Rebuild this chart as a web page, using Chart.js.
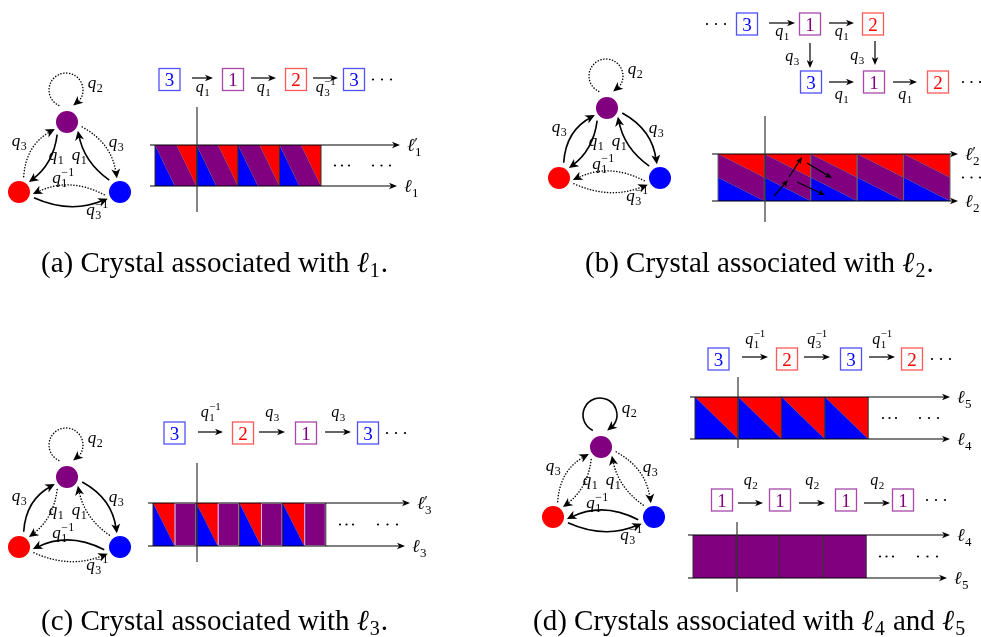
<!DOCTYPE html>
<html>
<head>
<meta charset="utf-8">
<script src="https://cdn.jsdelivr.net/npm/chart.js@4.4.0/dist/chart.umd.min.js"></script>
<style>html,body{margin:0;padding:0;background:#fff}canvas{display:block}</style>
</head>
<body>
<canvas id="c" width="981" height="637"></canvas>
<script>
// quiver: 1 = purple (top), 2 = red (left), 3 = blue (right)
const quiverNodes = ["1", "2", "3"];
const nodeColors = ["#800080", "#ff0000", "#0000ff"];
const quiverEdges = [
  ["1", "1", "q2"], ["1", "2", "q1"], ["2", "1", "q3"], ["3", "1", "q1"],
  ["1", "3", "q3"], ["3", "2", "q1^-1"], ["2", "3", "q3^-1"]
];
// 1 = solid arrow, 0 = dotted arrow, per panel
const solidA = [0, 1, 0, 1, 0, 0, 1];
const solidB = [0, 1, 1, 1, 1, 0, 0];
const solidC = [0, 0, 1, 0, 1, 1, 0];
const solidD = [1, 0, 0, 0, 0, 1, 1];

// crystals
const crystalA = ["3", "1", "2", "3"];
const opsA = ["q1", "q1", "q3^-1"];
const crystalB = ["3", "1", "2"];
const opsB = ["q1", "q1"];
const opsBDown = ["q3", "q3"];
const crystalC = ["3", "2", "1", "3"];
const opsC = ["q1^-1", "q3", "q3"];
const crystalD4 = ["3", "2", "3", "2"];
const opsD4 = ["q1^-1", "q3^-1", "q1^-1"];
const crystalD5 = ["1", "1", "1", "1"];
const opsD5 = ["q2", "q2", "q2"];

// tilings
const stripPatterns = ["a", "b", "c", "d", "e"];
const stripTiles = [4, 5, 4, 4, 4];
const stripLabels = [["ℓ'1", "ℓ1"], ["ℓ'2", "ℓ2"], ["ℓ'3", "ℓ3"], ["ℓ5", "ℓ4"], ["ℓ4", "ℓ5"]];

const captions = [
  ["(a) Crystal associated with ", "ℓ1", "."],
  ["(b) Crystal associated with ", "ℓ2", "."],
  ["(c) Crystal associated with ", "ℓ3", "."],
  ["(d) Crystals associated with ", "ℓ4", " and ", "ℓ5"]
];

// ---- layout (page units) ----
const quiverAt = [[67, 122], [607, 108], [67, 477], [601, 447]];
const nodeOffset = { "1": [0, 0], "2": [-48, 70], "3": [53, 70] };
const edgeGeom = [null, [128, -45, -6], [-73, 150, -8], [-132, 39, -6], [18, -103, -8], [170, 8, 9], [21, 151, 8]];
const edgeLabelAt = [[28, -37], [-11, 35], [-48, 21], [12, 35], [49, 22], [-4, 58], [30, 90]];
const panelSolid = [solidA, solidB, solidC, solidD];

const rows = [
  { cells: crystalA, ops: opsA, xs: [169.5, 233, 296, 354], y: 79.5, ay: 78, ldy: 11,
    arr: [[192, 213], [251, 276], [313, 338]], dots: [373, 391] },
  { cells: crystalB, ops: opsB, xs: [747, 810, 873], y: 24, ay: 23, ldy: 10,
    arr: [[769, 795], [829, 854]], dots: [707, 725] },
  { cells: crystalB, ops: opsB, xs: [811, 874, 938], y: 82, ay: 82, ldy: 14,
    arr: [[829, 854], [893, 917]], dots: [963, 980] },
  { cells: crystalC, ops: opsC, xs: [174.5, 243, 306, 368], y: 433, ay: 432, ldy: -18,
    arr: [[198, 223], [259, 285], [325, 351]], dots: [387, 405] },
  { cells: crystalD4, ops: opsD4, xs: [718.5, 787, 851, 912], y: 359, ay: 357, ldy: -16,
    arr: [[742, 768], [804, 830], [869, 895]], dots: [932, 950] },
  { cells: crystalD5, ops: opsD5, xs: [722, 780, 846, 903], y: 500, ay: 503, ldy: -21,
    arr: [[738, 763], [799, 825], [864, 890]], dots: [927, 945] }
];
const downArrowsB = [[810, 43, 68, 792, 58], [875, 41, 65, 857, 57]];

const strips = [
  { x0: 155, w: 41.5, top: 145, bot: 186, lx: 150, tip: [400, 397], axis: [197, 107, 212], dots: [[335, 349], [373, 390]] },
  { x0: 718, w: 46.4, top: 154, bot: 201, lx: 712, tip: [958, 958], axis: [765, 116, 222], dots: [[963, 980]] },
  { x0: 153, w: 43.2, top: 503, bot: 546, lx: 148, tip: [410, 405], axis: [197, 463, 562], dots: [[340, 353], [378, 397]] },
  { x0: 695, w: 43.3, top: 397, bot: 439, lx: 690, tip: [950, 950], axis: [738, 377, 448], dots: [[883, 896], [920, 938]] },
  { x0: 693, w: 43.3, top: 535, bot: 578, lx: 688, tip: [950, 947], axis: [737, 522, 592], dots: [[880, 893], [918, 937]] }
];
const innerArrowsB = [[774, 196, 788, 180], [789, 177, 802, 157], [807, 163, 832, 178], [797, 182, 825, 195]];
const captionAt = [[41, 272], [585, 272], [41, 630], [533, 630]];

const FONT = '"Liberation Serif", "DejaVu Serif", serif';
const BOX = { "1": ["#800080", "#a848a8"], "2": ["#ff0000", "#ff5a5a"], "3": ["#0000ff", "#5050ff"] };
const TILE = { p: "#800080", r: "#ff0000", b: "#0000ff" };

const diagram = {
  id: "diagram",
  beforeDatasetsDraw(chart) {
    const ctx = chart.ctx, sx = chart.scales.x, sy = chart.scales.y;
    const X = v => sx.getPixelForValue(v), Y = v => sy.getPixelForValue(v);

    function head(x1, y1, x2, y2, len, half) {
      const d = Math.hypot(x2 - x1, y2 - y1) || 1, ux = (x2 - x1) / d, uy = (y2 - y1) / d;
      ctx.beginPath();
      ctx.moveTo(x2, y2);
      ctx.lineTo(x2 - ux * len - uy * half, y2 - uy * len + ux * half);
      ctx.lineTo(x2 - ux * len * 0.72, y2 - uy * len * 0.72);
      ctx.lineTo(x2 - ux * len + uy * half, y2 - uy * len - ux * half);
      ctx.closePath();
      ctx.fill();
    }
    function arrow(x1, y1, x2, y2, len, lw) {
      x1 = X(x1); y1 = Y(y1); x2 = X(x2); y2 = Y(y2);
      const d = Math.hypot(x2 - x1, y2 - y1), ux = (x2 - x1) / d, uy = (y2 - y1) / d;
      ctx.save();
      ctx.strokeStyle = "#000"; ctx.fillStyle = "#000"; ctx.lineWidth = lw || 1.2; ctx.setLineDash([]);
      ctx.beginPath(); ctx.moveTo(x1, y1); ctx.lineTo(x2 - ux * len * 0.6, y2 - uy * len * 0.6); ctx.stroke();
      head(x1, y1, x2, y2, len, len * 0.42);
      ctx.restore();
    }
    function math(s, cx, cy, size, left) {
      const base = s[0], prime = s.includes("'");
      const sub = (s.replace("'", "").match(/^.(\d)/) || [])[1] || "";
      const sup = s.includes("^") ? "\u22121" : "";
      const fb = `italic ${size}px ${FONT}`, fs = `${Math.round(size * 0.7)}px ${FONT}`;
      ctx.font = fb; const wb = ctx.measureText(base).width;
      ctx.font = fs;
      const ws = Math.max(ctx.measureText(sub).width, sup ? ctx.measureText(sup).width : 0, prime ? 5 : 0);
      const x0 = left ? X(cx) : X(cx) - (wb + ws) / 2;
      const by = Y(cy) + size * (base === "ℓ" ? 0.36 : 0.2);
      ctx.fillStyle = "#000"; ctx.textAlign = "left"; ctx.textBaseline = "alphabetic";
      ctx.font = fb; ctx.fillText(base, x0, by);
      ctx.font = fs;
      if (sub) ctx.fillText(sub, x0 + wb + 0.5, by + size * 0.24);
      if (sup) ctx.fillText(sup, x0 + wb + 0.5, by - size * 0.42);
      if (prime) { ctx.font = `${Math.round(size * 0.85)}px ${FONT}`; ctx.fillText("\u2032", x0 + wb, by - size * 0.18); }
    }
    function dots(x1, x2, y) {
      ctx.fillStyle = "#000";
      for (let i = 0; i < 3; i++) {
        ctx.beginPath();
        ctx.arc(X(x1 + (x2 - x1) * i / 2), Y(y), 1.1, 0, Math.PI * 2);
        ctx.fill();
      }
    }
    function poly(pts, color) {
      ctx.fillStyle = color;
      ctx.beginPath();
      pts.forEach((p, i) => i ? ctx.lineTo(X(p[0]), Y(p[1])) : ctx.moveTo(X(p[0]), Y(p[1])));
      ctx.closePath(); ctx.fill();
    }
    function seam(x1, y1, x2, y2) {
      ctx.save();
      ctx.strokeStyle = "rgba(60,60,60,0.7)"; ctx.lineWidth = 0.8; ctx.setLineDash([1, 1]);
      ctx.beginPath(); ctx.moveTo(X(x1), Y(y1)); ctx.lineTo(X(x2), Y(y2)); ctx.stroke();
      ctx.restore();
    }

    // ---- quivers ----
    quiverAt.forEach((P, k) => {
      const pos = n => [P[0] + nodeOffset[n][0], P[1] + nodeOffset[n][1]];
      quiverEdges.forEach((e, i) => {
        ctx.save();
        ctx.strokeStyle = "#000"; ctx.fillStyle = "#000";
        if (panelSolid[k][i]) { ctx.lineWidth = 1.6; ctx.setLineDash([]); }
        else { ctx.lineWidth = 1.5; ctx.lineCap = "round"; ctx.setLineDash([0.1, 2.8]); }
        let tip, from;
        if (i === 0) {
          const c = [P[0] - 1, P[1] - 32], r = 17, a0 = 115 * Math.PI / 180, a1 = (65 + 360) * Math.PI / 180;
          ctx.beginPath();
          ctx.arc(X(c[0]), Y(c[1]), r, a0, a1 - 0.25);
          ctx.stroke();
          tip = [X(c[0]) + r * Math.cos(a1), Y(c[1]) + r * Math.sin(a1)];
          from = [X(c[0]) + r * Math.cos(a1 - 0.5), Y(c[1]) + r * Math.sin(a1 - 0.5)];
        } else {
          const g = edgeGeom[i], A = pos(e[0]), B = pos(e[1]);
          const s = [X(A[0]) + 16 * Math.cos(g[0] * Math.PI / 180), Y(A[1]) + 16 * Math.sin(g[0] * Math.PI / 180)];
          tip = [X(B[0]) + 14 * Math.cos(g[1] * Math.PI / 180), Y(B[1]) + 14 * Math.sin(g[1] * Math.PI / 180)];
          const dx = tip[0] - s[0], dy = tip[1] - s[1], d = Math.hypot(dx, dy);
          const c = [(s[0] + tip[0]) / 2 - dy / d * g[2] * 2, (s[1] + tip[1]) / 2 + dx / d * g[2] * 2];
          const t = 0.85, back = [(1 - t) * (1 - t) * s[0] + 2 * t * (1 - t) * c[0] + t * t * tip[0],
                                  (1 - t) * (1 - t) * s[1] + 2 * t * (1 - t) * c[1] + t * t * tip[1]];
          ctx.beginPath(); ctx.moveTo(s[0], s[1]);
          ctx.quadraticCurveTo(c[0], c[1], tip[0] * 0.6 + back[0] * 0.4, tip[1] * 0.6 + back[1] * 0.4);
          ctx.stroke();
          from = c;
        }
        ctx.setLineDash([]);
        head(from[0], from[1], tip[0], tip[1], 9.5, 4.5);
        ctx.restore();
        math(e[2], P[0] + edgeLabelAt[i][0], P[1] + edgeLabelAt[i][1], 17);
      });
    });

    // ---- crystal rows ----
    rows.forEach(r => {
      r.cells.forEach((c, i) => {
        const x = X(r.xs[i]), y = Y(r.y);
        ctx.fillStyle = "#fff"; ctx.fillRect(x - 10.5, y - 11, 21, 22);
        ctx.strokeStyle = BOX[c][1]; ctx.lineWidth = 1.3; ctx.setLineDash([]);
        ctx.strokeRect(x - 10.5, y - 11, 21, 22);
        ctx.fillStyle = BOX[c][0]; ctx.font = `19px ${FONT}`; ctx.textAlign = "center"; ctx.textBaseline = "alphabetic";
        ctx.fillText(c, x, y + 6.5);
      });
      r.ops.forEach((o, i) => {
        const [a, b] = r.arr[i];
        arrow(a, r.ay, b, r.ay, 8, 1.2);
        math(o, (a + b) / 2, r.ay + r.ldy, 16);
      });
      dots(r.dots[0], r.dots[1], r.y);
    });
    downArrowsB.forEach((d, i) => {
      arrow(d[0], d[1], d[0], d[2], 8, 1.2);
      math(opsBDown[i], d[3], d[4], 16);
    });

    // ---- tilings ----
    strips.forEach((s, k) => {
      const T = s.top, B = s.bot, M = (T + B) / 2, pat = stripPatterns[k];
      for (let i = 0; i < stripTiles[k]; i++) {
        const L = s.x0 + i * s.w, R = L + s.w, w = s.w;
        if (pat === "a") {
          poly([[L, T], [L, B], [L + 0.48 * w, B]], TILE.b);
          poly([[L, T], [L + 0.52 * w, T], [R, B], [L + 0.48 * w, B]], TILE.p);
          poly([[L + 0.52 * w, T], [R, T], [R, B]], TILE.r);
          seam(L, T, L + 0.48 * w, B); seam(L + 0.52 * w, T, R, B);
        } else if (pat === "b") {
          poly([[L, T], [R, T], [R, M]], TILE.r);
          poly([[L, T], [R, M], [R, B], [L, M]], TILE.p);
          poly([[L, M], [R, B], [L, B]], TILE.b);
          seam(L, T, R, M); seam(L, M, R, B);
        } else if (pat === "c") {
          const h = L + w / 2;
          poly([[L, T], [h, T], [h, B]], TILE.r);
          poly([[L, T], [h, B], [L, B]], TILE.b);
          poly([[h, T], [R, T], [R, B], [h, B]], TILE.p);
          seam(L, T, h, B);
          ctx.strokeStyle = "#e6b8e6"; ctx.lineWidth = 1; ctx.setLineDash([]);
          ctx.strokeRect(X(h) + 0.5, Y(T) + 0.5, X(R) - X(h) - 1, Y(B) - Y(T) - 1);
        } else if (pat === "d") {
          poly([[L, T], [R, T], [R, B]], TILE.r);
          poly([[L, T], [R, B], [L, B]], TILE.b);
          seam(L, T, R, B);
        } else {
          poly([[L, T], [R, T], [R, B], [L, B]], TILE.p);
        }
        ctx.strokeStyle = pat === "b" ? "#666" : "#333"; ctx.lineWidth = 1; ctx.setLineDash([]);
        ctx.beginPath();
        ctx.moveTo(X(L), Y(T)); ctx.lineTo(X(L), Y(B));
        ctx.moveTo(X(R), Y(T)); ctx.lineTo(X(R), Y(B));
        ctx.stroke();
      }
      arrow(s.lx, T, s.tip[0], T, 8, 1.2);
      arrow(s.lx, B, s.tip[1], B, 8, 1.2);
      ctx.strokeStyle = "#333"; ctx.lineWidth = 1.2;
      ctx.beginPath(); ctx.moveTo(X(s.axis[0]), Y(s.axis[1])); ctx.lineTo(X(s.axis[0]), Y(s.axis[2])); ctx.stroke();
      math(stripLabels[k][0], s.tip[0] + 7, T, 18, true);
      math(stripLabels[k][1], s.tip[1] + 7, B, 18, true);
      s.dots.forEach(d => dots(d[0], d[1], M));
    });
    innerArrowsB.forEach(a => arrow(a[0], a[1], a[2], a[3], 7, 1.3));

    // ---- captions ----
    captions.forEach((parts, k) => {
      let x = X(captionAt[k][0]);
      const y = Y(captionAt[k][1]);
      ctx.textAlign = "left"; ctx.textBaseline = "alphabetic"; ctx.fillStyle = "#000";
      parts.forEach(p => {
        if (p[0] === "ℓ") {
          ctx.font = `italic 29px ${FONT}`; ctx.fillText("ℓ", x, y); x += ctx.measureText("ℓ").width + 1;
          ctx.font = `20px ${FONT}`; ctx.fillText(p[1], x, y + 5); x += ctx.measureText(p[1]).width + 1;
        } else {
          ctx.font = `29px ${FONT}`; ctx.fillText(p, x, y); x += ctx.measureText(p).width;
        }
      });
    });
  }
};

new Chart(document.getElementById("c"), {
  type: "scatter",
  data: {
    datasets: quiverAt.map(p => ({
      data: quiverNodes.map(n => ({ x: p[0] + nodeOffset[n][0], y: p[1] + nodeOffset[n][1] })),
      pointBackgroundColor: nodeColors,
      pointBorderColor: nodeColors,
      pointBorderWidth: 0,
      pointRadius: 11,
      pointHoverRadius: 11
    }))
  },
  options: {
    responsive: false,
    animation: false,
    devicePixelRatio: 1,
    events: [],
    layout: { padding: 0, autoPadding: false },
    plugins: { legend: { display: false }, tooltip: { enabled: false } },
    scales: {
      x: { type: "linear", min: 0, max: 981, display: false },
      y: { type: "linear", min: 0, max: 637, reverse: true, display: false }
    }
  },
  plugins: [diagram]
});
</script>
</body>
</html>
